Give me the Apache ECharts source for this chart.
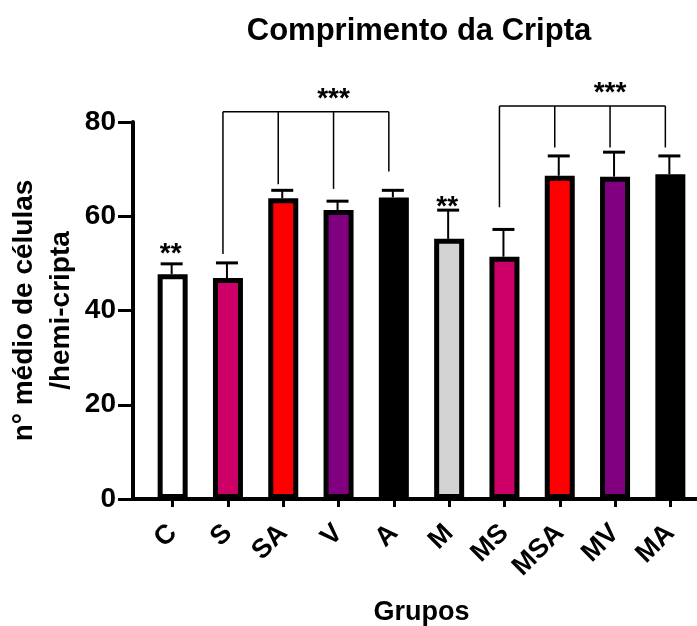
<!DOCTYPE html>
<html>
<head>
<meta charset="utf-8">
<script src="https://cdn.jsdelivr.net/npm/echarts@6/dist/echarts.min.js"></script>
<style>html,body{margin:0;padding:0;background:#fff}#c{width:697px;height:626px}</style>
</head>
<body>
<div id="c"></div>
<script>
// ---- data ----
const categories = ['C','S','SA','V','A','M','MS','MSA','MV','MA'];
const means  = [47.7, 46.9, 63.8, 61.3, 64.0, 55.2, 51.4, 68.6, 68.4, 68.9];
const errors = [2.2, 3.2, 1.7, 1.9, 1.5, 6.1, 5.8, 4.2, 5.2, 3.9];
const colors = ['#ffffff','#cc0066','#ff0000','#800080','#000000','#d3d3d3','#cc0066','#ff0000','#800080','#000000'];
const yTicks = [0, 20, 40, 60, 80];
// significance brackets: member categories, drop-end values, top value, label, label value
const bracket1Members = ['S','SA','V','A'];
const bracket1Drops   = [52.0, 66.8, 65.8, 69.5];
const bracket1Top     = 82.2;
const bracket2Members = ['MS','MSA','MV','MA'];
const bracket2Drops   = [61.9, 74.6, 74.6, 74.6];
const bracket2Top     = 83.4;
const bracketLabels   = ['***','***'];
const bracketLabelValues = [86.2, 87.4];
// single-bar markers
const starCats   = ['C','M'];
const starLabels = ['**','**'];
const starValues = [53.1, 63.1];

// ---- layout ----
const FONT = "'Liberation Sans', Arial, sans-serif";
const GRID_LEFT = 145, GRID_TOP = 122, GRID_BOTTOM = 127, GRID_RIGHT = -1;
const Y_OFFSET = 12;

const chart = echarts.init(document.getElementById('c'), null, {renderer:'canvas'});

const brackets = [
  {members: bracket1Members, drops: bracket1Drops, top: bracket1Top, label: bracketLabels[0], labelV: bracketLabelValues[0]},
  {members: bracket2Members, drops: bracket2Drops, top: bracket2Top, label: bracketLabels[1], labelV: bracketLabelValues[1]}
];

const option = {
  animation: false,
  backgroundColor: '#fff',
  title: {
    text: 'Comprimento da Cripta',
    left: 414, top: 11, textAlign: 'center',
    textStyle: {fontFamily: FONT, fontSize: 31, fontWeight: 'bold', color: '#000'}
  },
  grid: {left: GRID_LEFT, top: GRID_TOP, bottom: GRID_BOTTOM, right: GRID_RIGHT, containLabel: false, outerBoundsMode: 'none'},
  xAxis: {
    type: 'category',
    data: categories,
    name: 'Grupos',
    nameLocation: 'middle',
    nameGap: 100,
    nameMoveOverlap: false,
    nameTextStyle: {fontFamily: FONT, fontSize: 27, fontWeight: 'bold', color: '#000'},
    axisLine: {lineStyle: {color: '#000', width: 4}},
    axisTick: {show: true, alignWithLabel: true, length: 8, lineStyle: {color: '#000', width: 3}},
    axisLabel: {rotate: 45, margin: 30, fontFamily: FONT, fontSize: 27, fontWeight: 'bold', color: '#000', interval: 0},
    splitLine: {show: false}
  },
  yAxis: {
    type: 'value',
    min: yTicks[0], max: yTicks[yTicks.length-1], interval: yTicks[1]-yTicks[0],
    offset: Y_OFFSET,
    name: 'n° médio de células\n/hemi-cripta',
    nameLocation: 'middle',
    nameGap: 53,
    nameMoveOverlap: false,
    nameTextStyle: {fontFamily: FONT, fontSize: 28, fontWeight: 'bold', color: '#000', lineHeight: 37},
    axisLine: {show: true, lineStyle: {color: '#000', width: 4}},
    axisTick: {show: true, length: 15, lineStyle: {color: '#000', width: 3}},
    axisLabel: {margin: 17, fontFamily: FONT, fontSize: 28, fontWeight: 'bold', color: '#000'},
    splitLine: {show: false}
  },
  series: [
    {
      type: 'custom',
      z: 1,
      renderItem: function (params, api) {
        const x = api.value(0), m = api.value(1), e = api.value(2);
        const p0 = api.coord([x, m]);
        const p1 = api.coord([x, m + e]);
        return {type: 'group', children: [
          {type: 'line', shape: {x1: p0[0] - 1, y1: p0[1], x2: p1[0] - 1, y2: p1[1]}, style: {stroke: '#000', lineWidth: 2}},
          {type: 'line', shape: {x1: p1[0] - 12, y1: p1[1], x2: p1[0] + 10, y2: p1[1]}, style: {stroke: '#000', lineWidth: 3}}
        ]};
      },
      data: categories.map((c, i) => [i, means[i], errors[i]])
    },
    {
      type: 'bar',
      z: 2,
      barWidth: 30,
      data: means.map((v, i) => ({value: v, itemStyle: {color: colors[i], borderColor: '#000', borderWidth: 5}}))
    },
    {
      type: 'custom',
      z: 3,
      clip: false,
      renderItem: function (params, api) {
        const b = brackets[params.dataIndex];
        const dx = -5;
        const idx = b.members.map(c => categories.indexOf(c));
        const left = api.coord([idx[0], b.top]);
        const right = api.coord([idx[idx.length-1], b.top]);
        const children = [
          {type: 'line', shape: {x1: left[0] + dx, y1: left[1], x2: right[0] + dx, y2: right[1]}, style: {stroke: '#000', lineWidth: 1.5}}
        ];
        idx.forEach((ci, k) => {
          const t = api.coord([ci, b.top]);
          const d = api.coord([ci, b.drops[k]]);
          children.push({type: 'line', shape: {x1: t[0] + dx, y1: t[1], x2: d[0] + dx, y2: d[1]}, style: {stroke: '#000', lineWidth: 1.5}});
        });
        const lp = api.coord([(idx[0] + idx[idx.length-1]) / 2, b.labelV]);
        children.push({type: 'text', x: lp[0] + dx, y: lp[1] + 6, style: {text: b.label, font: 'bold 28px ' + FONT, fill: '#000', textAlign: 'center', textVerticalAlign: 'middle'}});
        return {type: 'group', children: children};
      },
      data: brackets.map((b, i) => [i])
    },
    {
      type: 'custom',
      z: 3,
      clip: false,
      renderItem: function (params, api) {
        const i = params.dataIndex;
        const p = api.coord([categories.indexOf(starCats[i]), starValues[i]]);
        return {type: 'text', x: p[0] - 2, y: p[1] + 6, style: {text: starLabels[i], font: 'bold 28px ' + FONT, fill: '#000', textAlign: 'center', textVerticalAlign: 'middle'}};
      },
      data: starCats.map((c, i) => [i])
    }
  ],
  graphic: [
    {
      type: 'line',
      z: 10,
      shape: {x1: GRID_LEFT - Y_OFFSET - 2, y1: 626 - GRID_BOTTOM, x2: GRID_LEFT + 1, y2: 626 - GRID_BOTTOM},
      style: {stroke: '#000', lineWidth: 4}
    }
  ]
};
chart.setOption(option);
</script>
</body>
</html>
